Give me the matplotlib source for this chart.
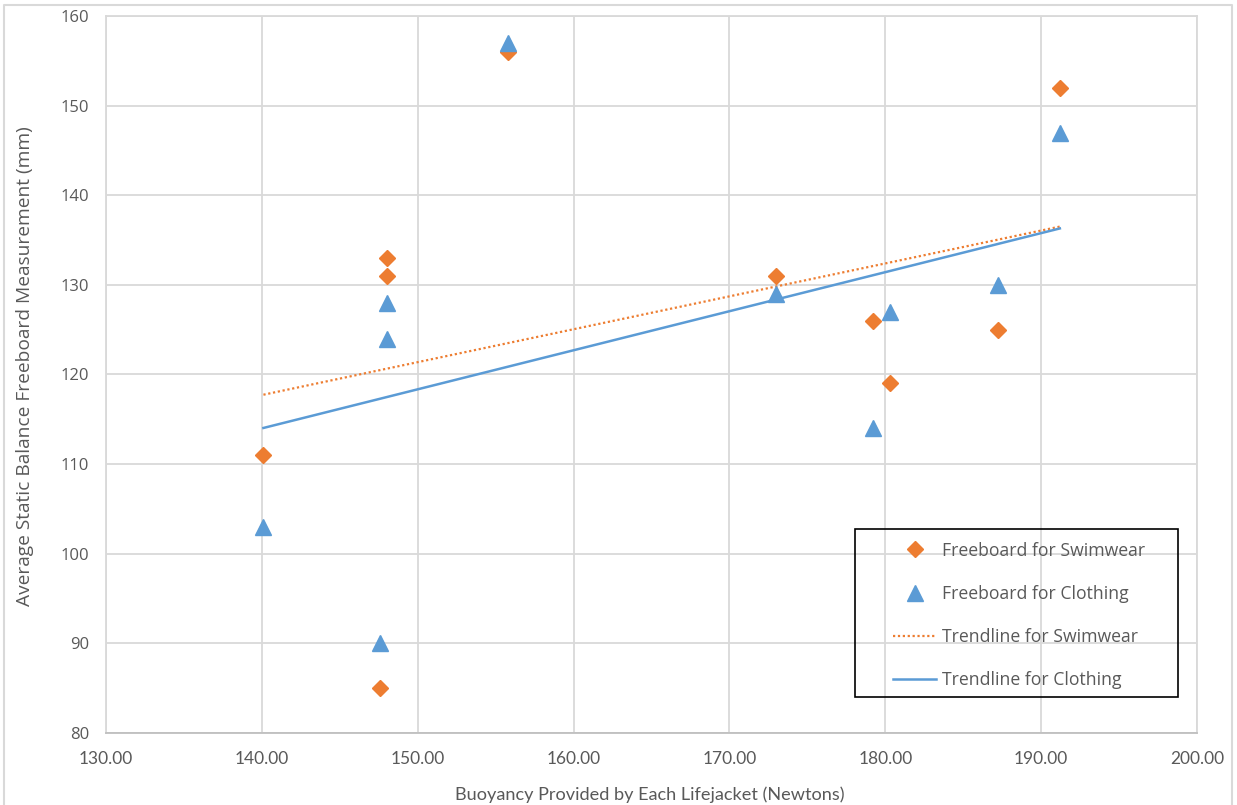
import matplotlib.pyplot as plt
import numpy as np
from matplotlib.lines import Line2D
from matplotlib.patches import Rectangle

# Buoyancy of each lifejacket (N) and average freeboard (mm)
buoyancy = [140.1, 147.6, 148.0, 148.0, 155.8, 173.0, 179.2, 180.3, 187.2, 191.2]
freeboard_swimwear = [111, 85, 133, 131, 156, 131, 126, 119, 125, 152]
freeboard_clothing = [103, 90, 128, 124, 157, 129, 114, 127, 130, 147]

orange = '#ED7D31'
blue = '#5B9BD5'
grey_text = '#595959'
grid_col = '#D9D9D9'
W, H = 1237, 805

fig = plt.figure(figsize=(W / 100, H / 100), dpi=100)
ax = fig.add_axes([106 / W, 72 / H, 1091 / W, 717 / H])

# scatter points
ax.plot(buoyancy, freeboard_swimwear, linestyle='none', marker='D', markersize=8,
        color=orange, label='Freeboard for Swimwear', zorder=4)
ax.plot(buoyancy, freeboard_clothing, linestyle='none', marker='^', markersize=11.5,
        color=blue, label='Freeboard for Clothing', zorder=4)

# linear trendlines over the data range
x_fit = np.array([min(buoyancy), max(buoyancy)])
m_s, c_s = np.polyfit(buoyancy, freeboard_swimwear, 1)
m_c, c_c = np.polyfit(buoyancy, freeboard_clothing, 1)
ax.plot(x_fit, m_s * x_fit + c_s, linestyle=(0, (1, 1.2)), linewidth=1.6,
        color=orange, label='Trendline for Swimwear', zorder=3)
ax.plot(x_fit, m_c * x_fit + c_c, linestyle='-', linewidth=1.8,
        color=blue, label='Trendline for Clothing', zorder=3)

ax.set_xlim(130, 200)
ax.set_ylim(80, 160)
ax.set_xticks(np.arange(130, 201, 10))
ax.set_yticks(np.arange(80, 161, 10))
ax.xaxis.set_major_formatter(plt.FuncFormatter(lambda v, p: f'{v:.2f}'))
ax.grid(True, color=grid_col, linewidth=1.3)
ax.set_axisbelow(True)
for side in ['top', 'right', 'left']:
    ax.spines[side].set_color(grid_col)
    ax.spines[side].set_linewidth(1.3)
ax.spines['bottom'].set_color('#BFBFBF')
ax.spines['bottom'].set_linewidth(1.3)
ax.tick_params(length=0, labelcolor=grey_text)
ax.tick_params(axis='x', pad=13, labelsize=12.5)
ax.tick_params(axis='y', pad=12, labelsize=12)
for lbl in ax.get_xticklabels():
    lbl.set_family('Lato')
for lbl in ax.get_yticklabels():
    lbl.set_family('Open Sans')

ax.set_xlabel('Buoyancy Provided by Each Lifejacket (Newtons)', fontsize=13.1,
              color=grey_text, family='Lato')
ax.set_ylabel('Average Static Balance Freeboard Measurement (mm)', fontsize=13.8,
              color=grey_text, family='Open Sans')
ax.xaxis.set_label_coords(0.4982, -0.0739)
ax.yaxis.set_label_coords(-0.066, 0.5119)

# legend box drawn separately so the inner padding can differ per side
fig.patches.append(Rectangle((855 / W, 1 - 697 / H), 323 / W, 168 / H,
                             transform=fig.transFigure, fill=False,
                             edgecolor='black', linewidth=1.2, zorder=5))
leg = ax.legend(loc='center left', bbox_to_anchor=(893 / W, 1 - 615.5 / H),
                bbox_transform=fig.transFigure, frameon=False,
                prop={'family': 'Open Sans', 'size': 12.7},
                labelspacing=1.43, handlelength=2.45, handletextpad=0.3,
                borderpad=0, borderaxespad=0)
for t in leg.get_texts():
    t.set_color(grey_text)

# light border around the chart (left, top, right)
border_x = [4 / W, 4 / W, 1232 / W, 1232 / W]
border_y = [0, 1 - 5 / H, 1 - 5 / H, 0]
fig.lines.append(Line2D(border_x, border_y, transform=fig.transFigure,
                        color=grid_col, linewidth=1.5))

fig.savefig('out.png', dpi=100)
